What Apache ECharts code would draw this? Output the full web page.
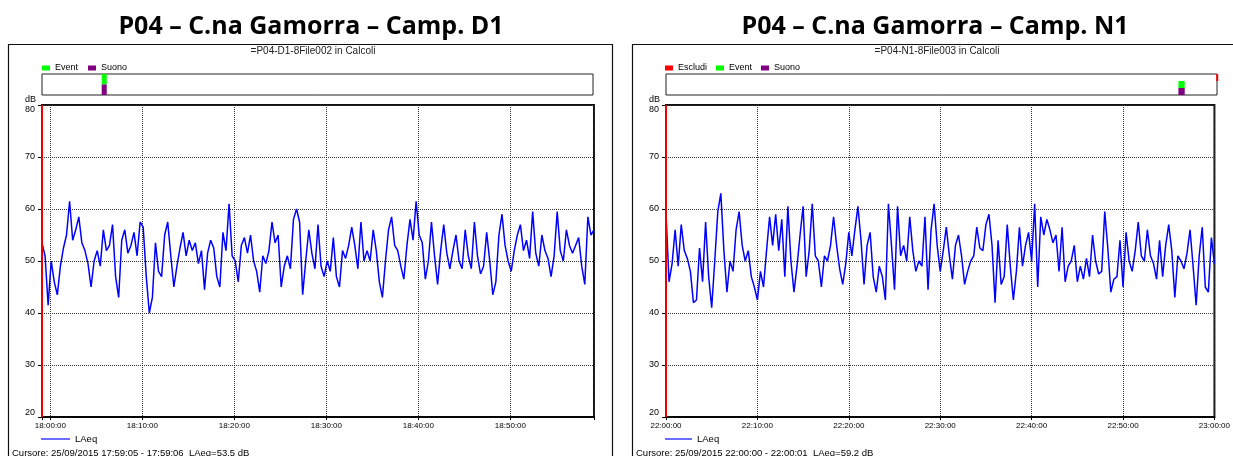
<!DOCTYPE html>
<html>
<head>
<meta charset="utf-8">
<script src="https://cdn.jsdelivr.net/npm/echarts@6/dist/echarts.min.js"></script>
<style>
  html, body { margin: 0; padding: 0; background: #fff; }
  #chart { width: 1233px; height: 456px; }
</style>
</head>
<body>
<div id="chart"></div>
<script>
// ---- Measurement P04 – C.na Gamorra, 25/09/2015 ----
const stepSeconds = 20;          // spacing of the LAeq samples below
const dbMin = 20, dbMax = 80, dbStep = 10;
const tickMinutes = 10;

// Daytime run D1
const d1Title = 'P04 – C.na Gamorra – Camp. D1';
const d1File = '=P04-D1-8File002 in Calcoli';
const d1Start = '17:59:05';
const d1End = '18:59:05';
const d1Cursor = '17:59:05';
const d1CursorText = 'Cursore: 25/09/2015 17:59:05 - 17:59:06  LAeq=53.5 dB';
const d1Laeq = [
  53.5, 51, 41.5, 50, 46, 43.5, 49, 52.5, 55, 61.5,
  54, 56, 58.5, 53.5, 52, 49.5, 45, 50, 52, 49,
  56, 52, 53, 57, 47, 43, 54, 56, 51.5, 53,
  55.5, 51, 57.5, 56.5, 47, 40, 43, 53.5, 48, 47,
  55, 57.5, 51, 45, 49, 52.5, 55.5, 51, 54, 52,
  53.5, 49.5, 52, 44.5, 51.5, 54, 52.5, 47, 45, 55.5,
  52, 61, 51, 50, 46, 53, 54.5, 51.5, 55, 50,
  48, 44, 51, 49.5, 52, 57.5, 53.5, 55, 45, 49,
  51, 48.5, 58, 60, 57.5, 43.5, 50, 56, 51.5, 48.5,
  57, 49, 47, 50, 48, 54.5, 47, 45, 52, 50.5,
  53, 56.5, 53, 48.5, 57.5, 50, 52, 50, 56, 52,
  46, 43, 50, 56, 58.5, 53, 52, 49, 46.5, 53,
  58, 54, 61.5, 55, 53.5, 46.5, 50, 57.5, 51, 45.5,
  52, 57, 51.5, 48.5, 52, 55, 50, 48.5, 56, 51,
  48.5, 57.5, 51, 47.5, 49, 55.5, 50, 43.5, 46, 55,
  59, 53, 50, 48, 52, 55, 57, 52, 54, 50.5,
  59.5, 51.5, 49, 55, 52, 50.5, 47, 51, 59.5, 52,
  50, 56, 53, 51.5, 53, 54.5, 49, 45.5, 58.5, 55,
  56
];
const d1EventSpans = [['18:05:35', '18:06:08']];
const d1SuonoSpans = [['18:05:35', '18:06:08']];

// Night run N1
const n1Title = 'P04 – C.na Gamorra – Camp. N1';
const n1File = '=P04-N1-8File003 in Calcoli';
const n1Start = '22:00:00';
const n1End = '23:00:00';
const n1Cursor = '22:00:00';
const n1CursorText = 'Cursore: 25/09/2015 22:00:00 - 22:00:01  LAeq=59.2 dB';
const n1Laeq = [
  59.2, 46, 49.5, 56, 49, 57, 52, 50.5, 48, 42,
  42.5, 52.5, 46, 57.5, 47, 41, 50, 59.5, 63, 52,
  44, 50, 48, 56, 59.5, 53, 50, 52, 47, 45,
  42.5, 48, 45, 52, 58.5, 53, 59, 52, 58, 47,
  60.5, 50, 44, 49, 55, 60.5, 47, 52, 61, 51,
  50, 45, 51, 50, 53, 58.5, 53, 48.5, 45.5, 49.5,
  55.5, 51, 56, 60.5, 54, 45.5, 53, 55.5, 47, 44,
  49, 47, 42.5, 61, 53, 44.5, 60.5, 51, 53, 50,
  58.5, 52, 48, 50, 49, 58.5, 44.5, 56, 61, 53,
  48, 52, 56.5, 51, 46.5, 53, 55, 51, 45.5, 48,
  50, 51, 56.5, 52.5, 52, 57, 59, 53, 42, 54,
  45.5, 47, 57, 49, 42.5, 48, 56.5, 49, 53, 55.5,
  50, 61, 45, 58.5, 55, 58, 56, 53.5, 55, 48,
  56.5, 46, 49, 50, 53, 46, 49, 46.5, 50.5, 47,
  55, 50, 47.5, 48, 59.5, 52.5, 44, 46.5, 47, 54,
  45, 55.5, 50, 48, 52, 57.5, 51, 50, 56, 51,
  49.5, 46.5, 54, 47, 53, 57, 52, 43, 51, 50,
  48.5, 51.5, 56, 49, 41.5, 51, 56.5, 45, 44, 54.5,
  49.5
];
const n1EscludiSpans = [['22:59:55', '23:00:05']];
const n1EventSpans = [['22:55:48', '22:56:29']];
const n1SuonoSpans = [['22:55:48', '22:56:29']];

// Marker colours
const colLaeq = '#0000ff';
const colLaeqKey = '#3b3bff';
const colCursor = '#ee0000';
const colEscludi = '#ff0000';
const colEvent = '#00ff00';
const colSuono = '#800080';

const smallFont = 'Liberation Sans, Arial, sans-serif';

function ts(hms) {
  const [h, m, s] = hms.split(':').map(Number);
  return Date.UTC(2015, 8, 25, h, m, s);
}
function pad(n) { return String(n).padStart(2, '0'); }
function tickLabel(v) {
  const d = new Date(v);
  if (d.getUTCSeconds() !== 0 || d.getUTCMinutes() % tickMinutes !== 0) return '';
  return pad(d.getUTCHours()) + ':' + pad(d.getUTCMinutes()) + ':' + pad(d.getUTCSeconds());
}
function seriesPoints(start, values) {
  const t0 = ts(start);
  return values.map((v, i) => [t0 + i * stepSeconds * 1000, v]);
}
function spanRows(spans, row) {
  return spans.map(s => [ts(s[0]), ts(s[1]), row]);
}

// panel geometry
const panels = [
  { x0: 8, plotLeft: 42, start: d1Start, end: d1End },
  { x0: 632, plotLeft: 666, start: n1Start, end: n1End }
];
const plotWidth = 552;
const plotTop = 105, plotHeight = 312;
const bandTop = 74, bandHeight = 21;
const tickMs = tickMinutes * 60000;

function mainX(i) {
  const p = panels[i];
  return {
    type: 'value', gridIndex: i, scale: true,
    min: ts(p.start), max: ts(p.end),
    minInterval: tickMs, maxInterval: tickMs, splitNumber: 6,
    axisLine: { show: true, onZero: false, lineStyle: { color: '#000', width: 1.5 } },
    axisTick: { show: true, length: 3, lineStyle: { color: '#000' } },
    axisLabel: { formatter: tickLabel, fontSize: 8, color: '#000', margin: 5,
                 hideOverlap: false, showMinLabel: true, showMaxLabel: true, fontFamily: smallFont },
    splitLine: { show: true, lineStyle: { type: 'dotted', color: '#333', width: 1 } }
  };
}
function mainY(i) {
  return {
    type: 'value', gridIndex: i, min: dbMin, max: dbMax, interval: dbStep,
    name: 'dB', nameLocation: 'end', nameGap: 1,
    nameTextStyle: { fontSize: 9, color: '#000', align: 'right', verticalAlign: 'bottom',
                     padding: [0, 6, 0, 0], fontFamily: smallFont },
    axisLine: { show: true, lineStyle: { color: '#000', width: 1 } },
    axisTick: { show: true, length: 4, lineStyle: { color: '#000' } },
    axisLabel: { fontSize: 9, color: '#000', margin: 7, fontFamily: smallFont,
                 verticalAlignMaxLabel: 'top', verticalAlignMinLabel: 'bottom' },
    splitLine: { show: true, lineStyle: { type: 'dotted', color: '#333', width: 1 } }
  };
}
function bandX(i) {
  const p = panels[i];
  return { type: 'value', gridIndex: 2 + i, scale: true, min: ts(p.start), max: ts(p.end), show: false };
}
function bandY(i, rows) {
  return { type: 'value', gridIndex: 2 + i, min: 0, max: rows, inverse: true, show: false };
}
function laeqSeries(i, start, values, cursor) {
  return {
    type: 'line', name: 'LAeq', xAxisIndex: i, yAxisIndex: i,
    data: seriesPoints(start, values),
    symbol: 'none', showSymbol: false, sampling: false,
    lineStyle: { color: colLaeq, width: 1.5 },
    itemStyle: { color: colLaeq },
    z: 3,
    markLine: {
      symbol: ['none', 'none'], silent: true, animation: false,
      label: { show: false },
      lineStyle: { color: colCursor, width: 2, type: 'solid' },
      data: [{ xAxis: ts(cursor) }]
    }
  };
}
function renderSpan(params, api) {
  const a = api.coord([api.value(0), api.value(2)]);
  const b = api.coord([api.value(1), api.value(2) + 1]);
  return {
    type: 'rect',
    shape: { x: a[0], y: a[1], width: Math.max(b[0] - a[0], 2), height: b[1] - a[1] },
    style: { fill: api.visual('color') }
  };
}
function spanSeries(i, name, color, spans, row) {
  return {
    type: 'custom', name, xAxisIndex: 2 + i, yAxisIndex: 2 + i,
    data: spanRows(spans, row), encode: { x: [0, 1], y: 2 },
    renderItem: renderSpan, clip: false,
    itemStyle: { color }
  };
}
function titleTexts(i, title, file, cursorText) {
  const p = panels[i];
  const cx = p.x0 + 303;
  return [
    { type: 'text', x: cx, y: 26.5, silent: true,
      style: { text: title, align: 'center', verticalAlign: 'middle',
               font: 'bold 25px "Open Sans", sans-serif', fill: '#000' } },
    { type: 'rect', silent: true,
      shape: { x: p.x0 + 0.5, y: 44.5, width: 604, height: 440 },
      style: { fill: null, stroke: '#111', lineWidth: 1.2 } },
    { type: 'text', x: cx + 2, y: 51, silent: true,
      style: { text: file, align: 'center', verticalAlign: 'middle',
               font: '10px ' + smallFont, fill: '#222' } },
    { type: 'text', x: p.x0 + 4, y: 453, silent: true,
      style: { text: cursorText, align: 'left', verticalAlign: 'middle',
               font: '9.5px ' + smallFont, fill: '#000' } }
  ];
}

const chart = echarts.init(document.getElementById('chart'), null, { renderer: 'canvas' });
chart.setOption({
  animation: false,
  backgroundColor: '#fff',
  textStyle: { fontFamily: smallFont },
  grid: [
    { left: panels[0].plotLeft, top: plotTop, width: plotWidth, height: plotHeight,
      show: true, borderColor: '#111', borderWidth: 2 },
    { left: panels[1].plotLeft, top: plotTop, width: plotWidth, height: plotHeight,
      show: true, borderColor: '#111', borderWidth: 2 },
    { left: panels[0].plotLeft, top: bandTop, width: plotWidth - 1, height: bandHeight,
      show: true, borderColor: '#222', borderWidth: 1 },
    { left: panels[1].plotLeft, top: bandTop, width: plotWidth - 1, height: bandHeight,
      show: true, borderColor: '#222', borderWidth: 1 }
  ],
  xAxis: [mainX(0), mainX(1), bandX(0), bandX(1)],
  yAxis: [mainY(0), mainY(1), bandY(0, 2), bandY(1, 3)],
  legend: [
    { data: ['Event', 'Suono'], left: 42, top: 63.5, padding: 0, itemWidth: 8, itemHeight: 5,
      itemGap: 10, icon: 'rect', selectedMode: false,
      textStyle: { fontSize: 9, color: '#000', fontFamily: smallFont } },
    { data: ['Escludi', 'Event', 'Suono'], left: 665, top: 63.5, padding: 0, itemWidth: 8, itemHeight: 5,
      itemGap: 9, icon: 'rect', selectedMode: false,
      textStyle: { fontSize: 9, color: '#000', fontFamily: smallFont } },
    { data: ['LAeq'], left: 41, top: 434, padding: 0, itemWidth: 29, itemHeight: 1.5,
      icon: 'rect', itemStyle: { color: colLaeqKey }, selectedMode: false,
      textStyle: { fontSize: 9.5, color: '#000', fontFamily: smallFont } },
    { data: ['LAeq'], left: 665, top: 434, padding: 0, itemWidth: 27, itemHeight: 1.5,
      icon: 'rect', itemStyle: { color: colLaeqKey }, selectedMode: false,
      textStyle: { fontSize: 9.5, color: '#000', fontFamily: smallFont } }
  ],
  series: [
    laeqSeries(0, d1Start, d1Laeq, d1Cursor),
    laeqSeries(1, n1Start, n1Laeq, n1Cursor),
    spanSeries(0, 'Event', colEvent, d1EventSpans, 0),
    spanSeries(0, 'Suono', colSuono, d1SuonoSpans, 1),
    spanSeries(1, 'Escludi', colEscludi, n1EscludiSpans, 0),
    spanSeries(1, 'Event', colEvent, n1EventSpans, 1),
    spanSeries(1, 'Suono', colSuono, n1SuonoSpans, 2)
  ],
  graphic: [
    ...titleTexts(0, d1Title, d1File, d1CursorText),
    ...titleTexts(1, n1Title, n1File, n1CursorText)
  ]
});
</script>
</body>
</html>
